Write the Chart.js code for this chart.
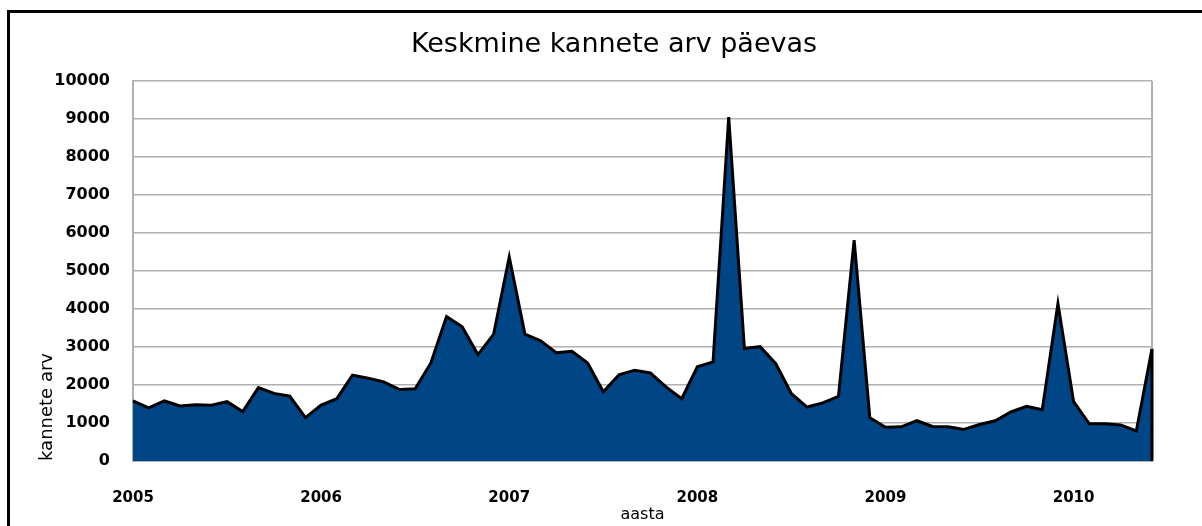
<!DOCTYPE html>
<html>
<head>
<meta charset="utf-8">
<title>Keskmine kannete arv päevas</title>
<script src="https://cdn.jsdelivr.net/npm/chart.js@4/dist/chart.umd.min.js"></script>
<style>
  html, body { margin: 0; padding: 0; background: #fff; overflow: hidden; }
  #wrap { position: absolute; left: 0; top: 0; width: 1202px; height: 526px; }
  #frame {
    position: absolute; left: 7px; top: 10px; width: 1300px; height: 700px;
    border: 3px solid #000; pointer-events: none;
  }
</style>
</head>
<body>
<div id="wrap"><canvas id="chart" width="1202" height="526"></canvas></div>
<div id="frame"></div>
<script>
// monthly averages, Jan 2005 .. Jun 2010
const months = [];
for (let y = 2005; y <= 2010; y++) {
  for (let m = 1; m <= 12; m++) {
    if (y === 2010 && m > 6) break;
    months.push(y + '-' + String(m).padStart(2, '0'));
  }
}

const yearTicks = ['2005', '2006', '2007', '2008', '2009', '2010'];

const kanded = [
  1580, 1400, 1580, 1450, 1480, 1470, 1560, 1300, 1930, 1780, 1710, 1140,
  1470, 1640, 2260, 2180, 2080, 1880, 1900, 2580, 3800, 3530, 2800, 3330,
  5370, 3340, 3160, 2850, 2890, 2580, 1820, 2270, 2390, 2320, 1950, 1640,
  2480, 2610, 9050, 2960, 3010, 2560, 1770, 1420, 1530, 1700, 5810, 1140,
  890, 900, 1060, 910, 900, 830, 960, 1060, 1290, 1440, 1350, 4140,
  1560, 980, 980, 950, 790, 2950
];

const gridGray = '#b0b0b0';

// gray right edge of the plot and the black closing edge of the area
const plotFrame = {
  id: 'plotFrame',
  afterDatasetsDraw(chart) {
    const { ctx, chartArea } = chart;
    const pts = chart.getDatasetMeta(0).data;
    const last = pts[pts.length - 1];
    ctx.save();
    ctx.strokeStyle = gridGray;
    ctx.lineWidth = 2;
    ctx.beginPath();
    ctx.moveTo(chartArea.right, chartArea.top);
    ctx.lineTo(chartArea.right, chartArea.bottom);
    ctx.stroke();
    ctx.strokeStyle = '#000';
    ctx.lineWidth = 3;
    ctx.beginPath();
    ctx.moveTo(last.x, last.y);
    ctx.lineTo(last.x, chartArea.bottom);
    ctx.stroke();
    ctx.restore();
  }
};

new Chart(document.getElementById('chart'), {
  type: 'line',
  data: {
    labels: months,
    datasets: [{
      label: 'kannete arv',
      data: kanded,
      fill: 'origin',
      backgroundColor: '#004686',
      borderColor: '#000',
      borderWidth: 3,
      pointRadius: 0,
      tension: 0
    }]
  },
  plugins: [plotFrame],
  options: {
    responsive: false,
    animation: false,
    layout: { padding: { left: 26, right: 0, top: 0, bottom: 0 } },
    plugins: {
      legend: { display: false },
      tooltip: { enabled: false },
      title: {
        display: true,
        text: 'Keskmine kannete arv päevas',
        color: '#000',
        font: { family: 'DejaVu Sans', size: 27, weight: 'normal' },
        padding: { top: 29, bottom: 19.6 }
      }
    },
    scales: {
      x: {
        offset: false,
        grid: { display: false, drawTicks: false },
        border: { display: true, color: gridGray, width: 2 },
        ticks: {
          autoSkip: false,
          maxRotation: 0,
          minRotation: 0,
          padding: 28,
          color: '#000',
          font: { family: 'DejaVu Sans', size: 15, weight: 'bold' },
          callback: function(val) {
            const lab = months[val];
            return lab.endsWith('-01') ? yearTicks[yearTicks.indexOf(lab.slice(0, 4))] : '';
          }
        },
        title: {
          display: true,
          text: 'aasta',
          color: '#000',
          font: { family: 'DejaVu Sans', size: 16 },
          padding: { top: 0, bottom: 2 }
        },
        afterFit: s => { s.height = 65; }
      },
      y: {
        min: 0,
        max: 10000,
        grid: { color: gridGray, lineWidth: 1.5, drawTicks: false },
        border: { display: true, color: gridGray, width: 2 },
        ticks: {
          stepSize: 1000,
          padding: 23,
          color: '#000',
          font: { family: 'DejaVu Sans', size: 16, weight: 'bold' },
          callback: v => String(v)
        },
        title: {
          display: true,
          text: 'kannete arv',
          align: 'start',
          color: '#000',
          font: { family: 'DejaVu Sans', size: 18 },
          padding: { top: 11, bottom: 0 }
        },
        afterFit: s => { s.width = 107; }
      },
      yRight: {
        position: 'right',
        min: 0,
        max: 10000,
        grid: { display: false, drawTicks: false },
        border: { display: false },
        ticks: { display: false },
        afterFit: s => { s.width = 50; }
      }
    }
  }
});
</script>
</body>
</html>
